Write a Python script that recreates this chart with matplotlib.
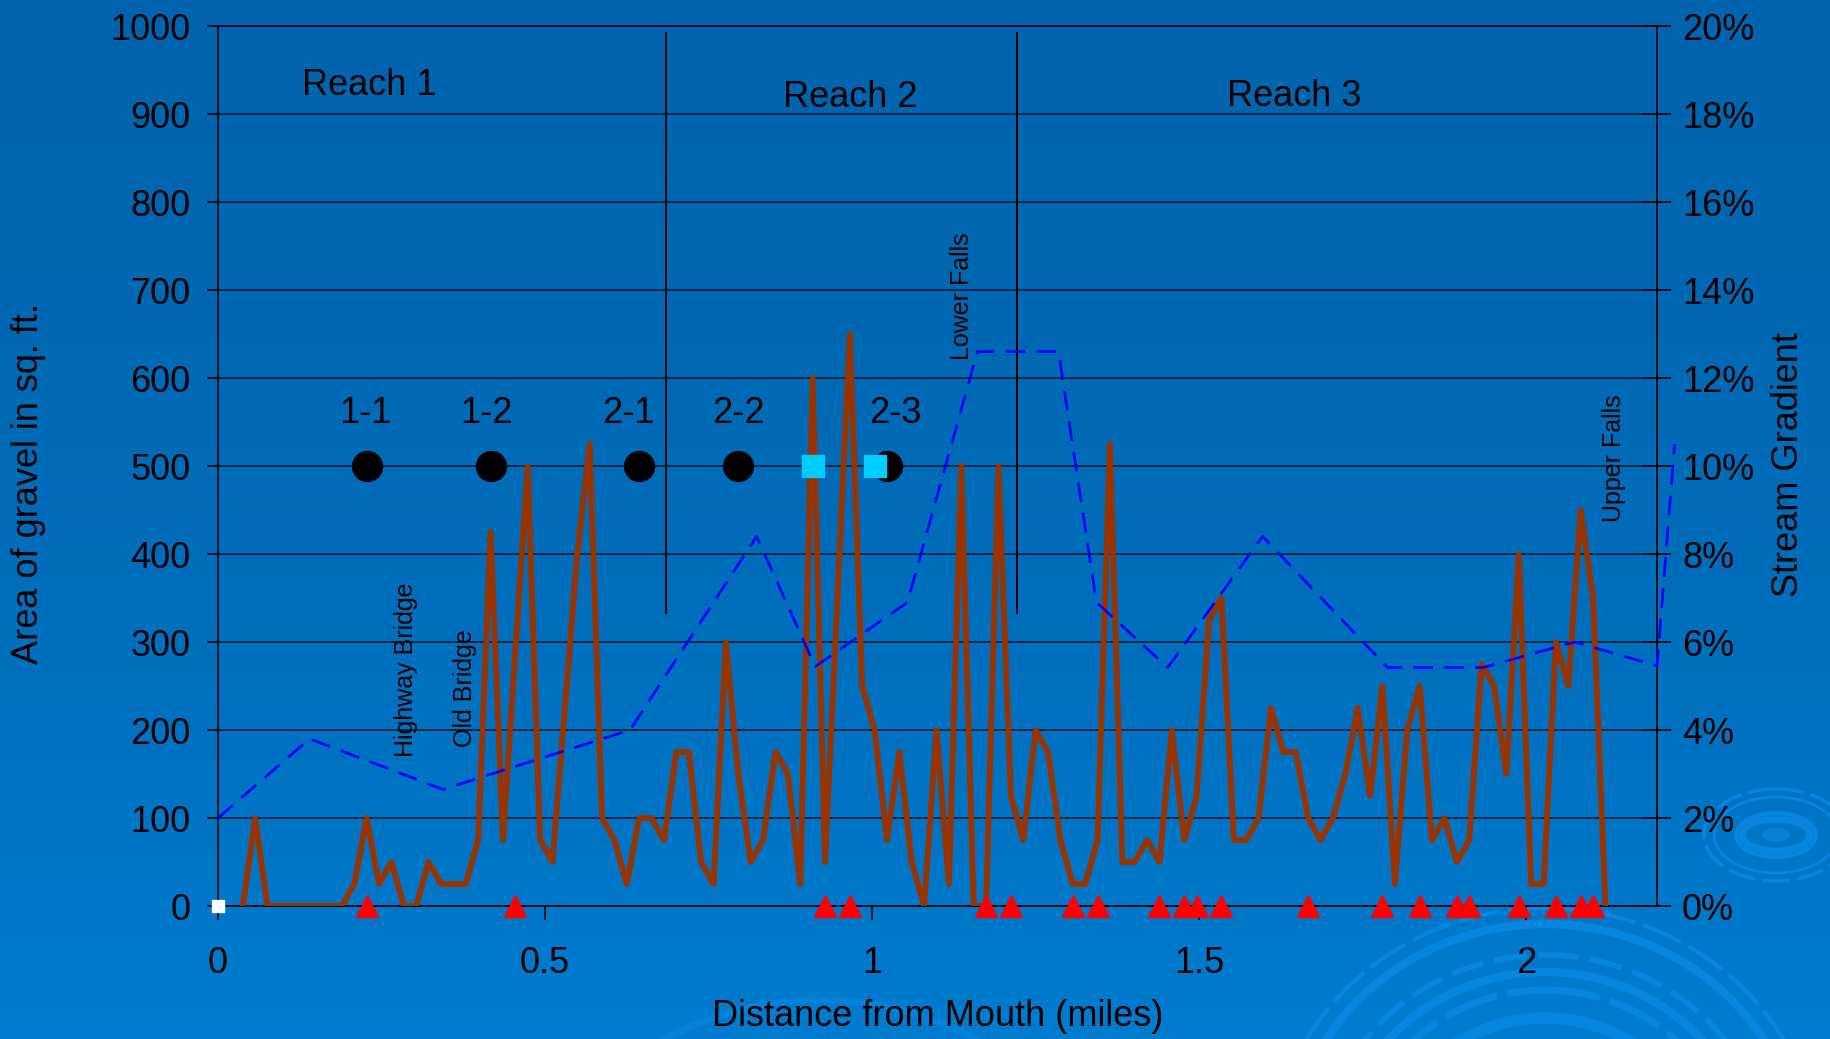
import numpy as np
import matplotlib
matplotlib.use("Agg")
import matplotlib.pyplot as plt
from matplotlib.patches import Ellipse

plt.rcParams['font.family'] = ['Liberation Sans', 'DejaVu Sans']

FT_PER_MILE = 5280.0

# ---------------- data ----------------
# gravel survey stations (feet from mouth), one every 100 ft
station_ft = np.arange(200, 11300, 100)
gravel_area = [0, 100, 0, 0, 0, 0, 0, 0, 0, 25,
               100, 25, 50, 0, 0, 50, 25, 25, 25, 75,
               425, 75, 290, 500, 75, 50, 225, 400, 525, 100,
               75, 25, 100, 100, 75, 175, 175, 50, 25, 300,
               150, 50, 75, 175, 150, 25, 600, 50, 350, 650,
               250, 200, 75, 175, 50, 0, 200, 25, 500, 0,
               0, 500, 125, 75, 200, 175, 75, 25, 25, 75,
               525, 50, 50, 75, 50, 200, 75, 125, 325, 350,
               75, 75, 100, 225, 175, 175, 100, 75, 100, 150,
               225, 125, 250, 25, 200, 250, 75, 100, 50, 75,
               275, 250, 150, 400, 25, 25, 300, 250, 450, 350,
               0]

gradient_miles = [0.0, 0.140, 0.344, 0.630, 0.8235, 0.913, 1.054, 1.161,
                  1.285, 1.343, 1.452, 1.597, 1.788, 1.934, 2.074, 2.200, 2.227]
gradient_pct = [2.0, 3.8, 2.65, 4.0, 8.4, 5.44, 6.9, 12.6,
                12.6, 6.9, 5.42, 8.4, 5.42, 5.42, 6.0, 5.46, 10.5]

triangle_ft = [1200, 2400, 4900, 5100, 6200, 6400, 6900, 7100, 7600, 7800,
               7900, 8100, 8800, 9400, 9700, 10000, 10100, 10500, 10800,
               11000, 11100]

site_labels = ['1-1', '1-2', '2-1', '2-2', '2-3']
site_ft = [1200, 2200, 3400, 4200, 5400]
site_label_miles = [0.225, 0.41, 0.628, 0.795, 1.036]
site_level = 500
site_label_level = 560

square_ft = [4800, 5300]

reach_labels = ['Reach 1', 'Reach 2', 'Reach 3']
reach_label_miles = [0.232, 0.966, 1.645]
reach_label_level = [932, 919, 920]
reach_bounds_miles = [0.685, 1.221]

landmark_labels = ['Highway Bridge', 'Old Bridge', 'Lower Falls', 'Upper Falls']
landmark_miles = [0.288, 0.378, 1.137, 2.134]
landmark_level = [169, 181, 621, 436]

y_ticks = list(range(0, 1001, 100))
x_ticks = [0, 0.5, 1, 1.5, 2]
x_ticklabels = ['0', '0.5', '1', '1.5', '2']
pct_ticks = list(range(0, 21, 2))

# ---------------- figure ----------------
W, H = 1830, 1039
fig = plt.figure(figsize=(W / 100, H / 100), dpi=100)

# background gradient + ripples
bg = fig.add_axes([0, 0, 1, 1], zorder=-10)
t = np.linspace(0, 1, 400)[:, None]
top = np.array([0, 101, 174]) / 255
bot = np.array([0, 124, 208]) / 255
tt = t ** 1.6
grad = top[None, None, :] * (1 - tt[..., None]) + bot[None, None, :] * tt[..., None]
grad = np.repeat(grad, 2, axis=1)
bg.imshow(grad, aspect='auto', extent=[0, W, H, 0])
bg.set_xlim(0, W)
bg.set_ylim(H, 0)
bg.axis('off')

ripple_col = '#0a8ae6'
big_c = (1545, 1170)
for r, lw, ls in [(262, 3, (0, (10, 2))), (246, 6, '-'), (215, 4, (0, (6, 2))),
                  (198, 6, '-'), (180, 5, (0, (8, 1.5))), (152, 8, '-'),
                  (120, 6, '-'), (90, 8, '-')]:
    bg.add_patch(Ellipse(big_c, 2 * r * 1.05, 2 * r, fill=False,
                         edgecolor=ripple_col, lw=lw, linestyle=ls, alpha=0.8))
small_c = (1776, 835)
for a, b, lw, ls in [(72, 46, 2.5, (0, (8, 2))), (62, 38, 2, '-'),
                     (40, 22, 3, '-'), (34, 16, 5, '-')]:
    bg.add_patch(Ellipse(small_c, 2 * a, 2 * b, fill=False,
                         edgecolor=ripple_col, lw=lw, linestyle=ls, alpha=0.8))
bg.add_patch(Ellipse(small_c, 28, 14, facecolor='#0a86dd', edgecolor='none', alpha=0.8))
bg.add_patch(Ellipse((820, 1330), 660, 660, fill=False, edgecolor=ripple_col,
                     lw=5, alpha=0.45))

# main axes
ax = fig.add_axes([218 / W, 1 - 906 / H, (1657 - 218) / W, (906 - 26) / H])
ax.patch.set_alpha(0)
ax.set_xlim(0, 2.2)
ax.set_ylim(0, 1000)
ax.set_yticks(y_ticks)
ax.set_xticks(x_ticks)
ax.set_xticklabels(x_ticklabels)
ax.yaxis.grid(True, color='#0a1a33', lw=1.2)
ax.set_axisbelow(True)
for s in ax.spines.values():
    s.set_color('black')
    s.set_linewidth(1.2)
ax.tick_params(axis='y', direction='out', length=8, width=1.2, pad=12,
               labelsize=26, colors='black')
ax.tick_params(axis='x', direction='out', length=10, width=1.2, pad=19,
               labelsize=26, colors='black')

ax.vlines(reach_bounds_miles, 332, 993, color='black', lw=1.4, zorder=3)

x_miles = station_ft / FT_PER_MILE
ax.plot(x_miles, gravel_area, color='#993300', lw=4.2, solid_joinstyle='round',
        zorder=4)

ax.plot(np.array(site_ft) / FT_PER_MILE, [site_level] * len(site_ft), 'o',
        color='black', ms=21.5, ls='none', zorder=5)
ax.plot(np.array(square_ft) / FT_PER_MILE, [site_level] * len(square_ft), 's',
        color='#00CCFF', ms=16, ls='none', zorder=6)
ax.plot(np.array(triangle_ft) / FT_PER_MILE, [0] * len(triangle_ft), '^',
        color='#FF0000', ms=16, ls='none', clip_on=False, zorder=7)
ax.plot([0], [0], 's', color='white', ms=9, clip_on=False, zorder=7)

for lab, xm in zip(site_labels, site_label_miles):
    ax.text(xm, site_label_level, lab, ha='center', va='center', fontsize=26,
            color='black')
for lab, xm, yv in zip(reach_labels, reach_label_miles, reach_label_level):
    ax.text(xm, yv, lab, ha='center', va='center', fontsize=26, color='black')
for lab, xm, yv in zip(landmark_labels, landmark_miles, landmark_level):
    ax.text(xm, yv, lab, ha='center', va='bottom', rotation=90, fontsize=18,
            color='black')

ax.set_xlabel('Distance from Mouth (miles)', fontsize=26, va='center')
ax.xaxis.set_label_coords(0.5, (906 - 1016) / 880)
ax.set_ylabel('Area of gravel in sq. ft.', fontsize=26, va='center')
ax.yaxis.set_label_coords((29 - 218) / 1439, 0.48)

# secondary axis: stream gradient
ax2 = ax.twinx()
ax2.set_ylim(0, 20)
ax2.set_yticks(pct_ticks)
ax2.set_yticklabels([f'{v}%' for v in pct_ticks])
ax2.tick_params(axis='y', direction='inout', length=20, width=1.2, pad=8,
                labelsize=26, colors='black')
for s in ax2.spines.values():
    s.set_visible(False)
ax2.plot(gradient_miles, gradient_pct, color='#0000FF', lw=1.9,
         dashes=(7.5, 4.2), clip_on=False)
ax2.set_ylabel('Stream Gradient', fontsize=26, va='center', rotation=90)
ax2.yaxis.set_label_coords((1789 - 218) / 1439, 0.502)

fig.savefig('out.png', dpi=100)
